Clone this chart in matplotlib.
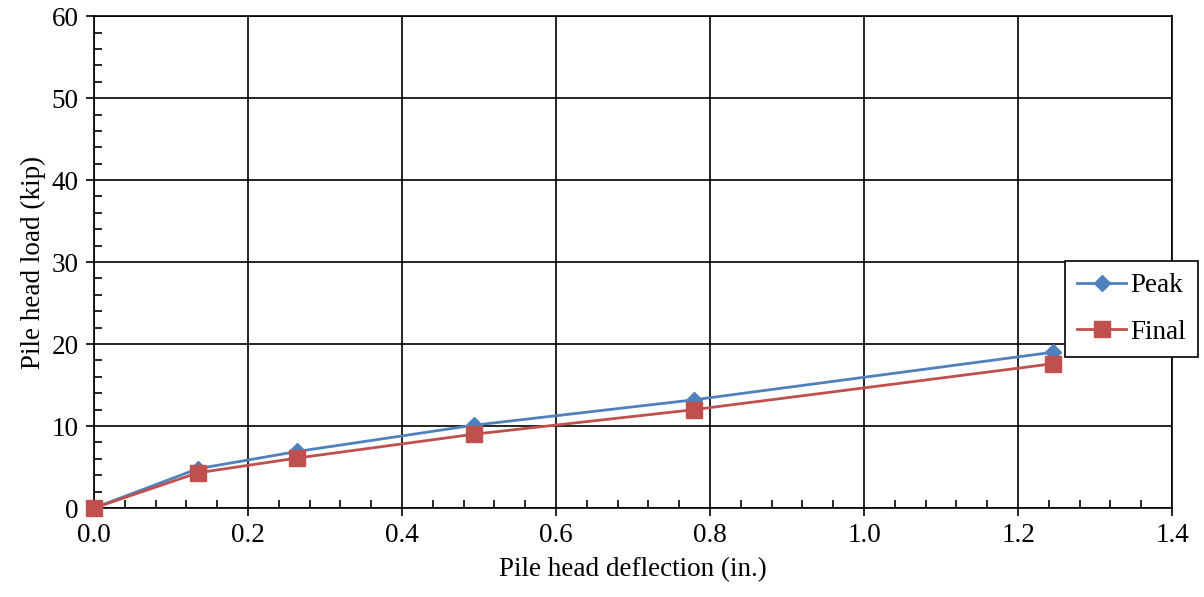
import numpy as np
import matplotlib.pyplot as plt
from matplotlib.ticker import MultipleLocator

plt.rcParams['font.family'] = ['Liberation Serif', 'DejaVu Serif']

########### data ###########
defl = [0.0, 0.135, 0.264, 0.493, 0.779, 1.245]
peak = [0.0, 4.8, 6.9, 10.1, 13.2, 19.0]
final = [0.0, 4.3, 6.1, 9.0, 12.0, 17.6]

fig = plt.figure(figsize=(12.04, 5.97), dpi=100)
ax = fig.add_axes([0.078, 0.149, 0.8955, 0.824])

ax.plot(defl, peak, color='#4F81BD', lw=2, marker='D', ms=8.5, label='Peak', zorder=3, clip_on=False)
ax.plot(defl, final, color='#C0504D', lw=2, marker='s', ms=11, label='Final', zorder=3, clip_on=False)

ax.set_xlim(0, 1.4)
ax.set_ylim(0, 60)
ax.xaxis.set_major_locator(MultipleLocator(0.2))
ax.xaxis.set_minor_locator(MultipleLocator(0.04))
ax.yaxis.set_major_locator(MultipleLocator(10))
ax.yaxis.set_minor_locator(MultipleLocator(2))
ax.xaxis.set_major_formatter(plt.FormatStrFormatter('%.1f'))

ax.grid(True, which='major', color='black', lw=1.2)
ax.set_axisbelow(True)
for s in ax.spines.values():
    s.set_color('black')
    s.set_linewidth(1.2)

ax.tick_params(which='major', direction='out', length=6, width=1.2, labelsize=19.5, pad=5)
ax.tick_params(which='minor', direction='in', length=6, width=1.2)

ax.set_xlabel('Pile head deflection (in.)', fontsize=19.5, labelpad=6)
ax.set_ylabel('Pile head load (kip)', fontsize=19.5, labelpad=4)

leg = ax.legend(loc='upper left', bbox_to_anchor=(1065/1204, 1 - 261/597),
                bbox_transform=fig.transFigure, borderaxespad=0, fontsize=19.5,
                frameon=True, fancybox=False, edgecolor='black', framealpha=1,
                handlelength=1.8, borderpad=0.45, labelspacing=0.8, handletextpad=0.15)
leg.get_frame().set_linewidth(1.2)

plt.savefig('out.png', dpi=100)
plt.close()
